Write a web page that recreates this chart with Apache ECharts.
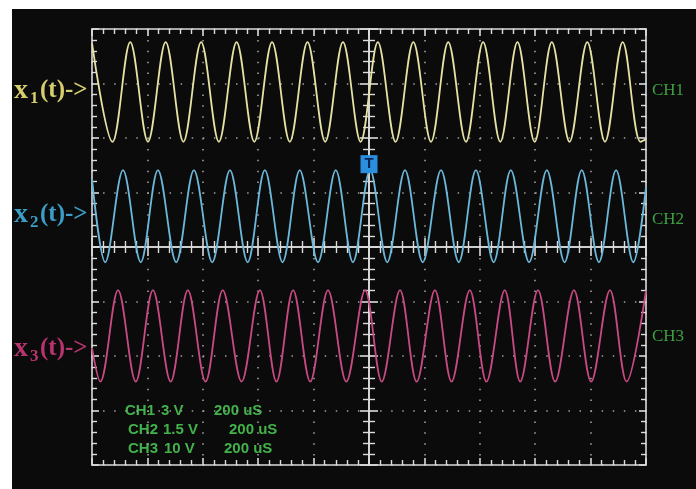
<!DOCTYPE html>
<html><head><meta charset="utf-8">
<script src="https://cdn.jsdelivr.net/npm/echarts@6/dist/echarts.min.js"></script>
<style>
html,body{margin:0;padding:0;background:#fff;}
#bg{position:absolute;left:12px;top:9px;width:684px;height:480px;background:#0b0b0b;}
#c{position:absolute;left:0;top:0;width:696px;height:489px;}
</style></head><body><div id="bg"></div><div id="c"></div>
<script>
// time in divisions (200 uS/div), amplitude in divisions
const ch1T = [0, 0.37, 0.69, 1.01, 1.33, 1.65, 1.97, 2.29, 2.61, 2.93, 3.25, 3.57, 3.89, 4.21, 4.53, 4.85, 5.16, 5.48, 5.80, 6.12, 6.43, 6.75, 7.06, 7.37, 7.68, 7.99, 8.30, 8.62, 8.94, 9.26, 9.58, 9.90, 10];
const ch1V = [3.74, 1.93, 3.76, 1.93, 3.76, 1.93, 3.76, 1.93, 3.76, 1.93, 3.76, 1.93, 3.76, 1.93, 3.76, 1.93, 3.76, 1.93, 3.76, 1.93, 3.76, 1.93, 3.76, 1.93, 3.76, 1.93, 3.76, 1.93, 3.76, 1.93, 3.76, 1.93, 1.98];
const ch2T = [0, 0.24, 0.56, 0.88, 1.19, 1.52, 1.84, 2.17, 2.49, 2.81, 3.12, 3.44, 3.75, 4.08, 4.40, 4.71, 5.02, 5.33, 5.65, 5.97, 6.30, 6.62, 6.93, 7.25, 7.56, 7.89, 8.21, 8.53, 8.84, 9.15, 9.46, 9.77, 10];
const ch2V = [1.25, -0.28, 1.41, -0.28, 1.41, -0.28, 1.41, -0.28, 1.41, -0.28, 1.41, -0.28, 1.41, -0.28, 1.41, -0.28, 1.41, -0.28, 1.41, -0.28, 1.41, -0.28, 1.41, -0.28, 1.41, -0.28, 1.41, -0.28, 1.41, -0.28, 1.41, -0.28, 1.10];
const ch3T = [0, 0.15, 0.47, 0.79, 1.10, 1.42, 1.73, 2.05, 2.36, 2.70, 3.03, 3.33, 3.63, 3.94, 4.26, 4.59, 4.93, 5.23, 5.56, 5.86, 6.19, 6.49, 6.82, 7.12, 7.45, 7.73, 8.05, 8.36, 8.70, 9.01, 9.35, 9.65, 10];
const ch3V = [-1.85, -2.47, -0.79, -2.47, -0.79, -2.47, -0.79, -2.47, -0.79, -2.47, -0.79, -2.47, -0.79, -2.47, -0.79, -2.47, -0.79, -2.47, -0.79, -2.47, -0.79, -2.47, -0.79, -2.47, -0.79, -2.47, -0.79, -2.47, -0.79, -2.47, -0.79, -2.47, -0.80];
const trigger = [5, 1.52];
const chLabels = ['CH1', 'CH2', 'CH3'];
const scaleRows = [['CH1', '3 V', '200 uS'], ['CH2', '1.5 V', '200 uS'], ['CH3', '10 V', '200 uS']];

const zip = (t, v) => t.map((x, i) => [x, v[i]]);
const W = '#dcdcdc';
const lineW = { color: W, width: 1.6 };
function axis(extra) {
  return Object.assign({
    type: 'value', axisLabel: { show: false },
    splitLine: { show: false },
  }, extra);
}
function vis(grid, pos, min, max, inside, major, minor, split, dash) {
  return axis({
    gridIndex: grid, position: pos, min: min, max: max, interval: 1,
    axisLine: { show: true, onZero: false, lineStyle: lineW },
    axisTick: { show: true, inside: inside, length: major, lineStyle: lineW },
    minorTick: { show: true, splitNumber: 5, length: minor, lineStyle: { color: W, width: 1.4 } },
    splitLine: { show: split, lineStyle: { color: '#a0a0a0', width: 1.6, type: dash } }
  });
}
function hid(grid, min, max) {
  return axis({ gridIndex: grid, show: false, min: min, max: max, axisLine: { onZero: false } });
}

const graphic = [];
const labelDefs = [
  { sub: '1', cy: 91, color: '#d6cd6c' },
  { sub: '2', cy: 215, color: '#3a9ec6' },
  { sub: '3', cy: 349, color: '#b8346e' }
];
labelDefs.forEach(d => {
  const f = 'bold 25px "Liberation Serif"';
  graphic.push({ type: 'text', x: 14, y: d.cy, style: { text: 'x', fill: d.color, font: 'bold 28px "Liberation Serif"', verticalAlign: 'middle' } });
  graphic.push({ type: 'text', x: 30, y: d.cy + 8, style: { text: d.sub, fill: d.color, font: 'bold 17px "Liberation Serif"', verticalAlign: 'middle' } });
  graphic.push({ type: 'text', x: 40, y: d.cy, style: { text: '(t)->', fill: d.color, font: f, verticalAlign: 'middle' } });
});
const chY = [91, 220, 337];
chLabels.forEach((t, i) => {
  graphic.push({ type: 'text', x: 652, y: chY[i], style: { text: t, fill: '#3da040', font: '17px "Liberation Serif"', verticalAlign: 'middle' } });
});
const rowY = [411, 430, 449];
const colX = [[125, 161, 214], [128, 163, 229], [128, 164, 224]];
scaleRows.forEach((r, i) => {
  r.forEach((t, j) => {
    graphic.push({ type: 'text', x: colX[i][j], y: rowY[i], style: { text: t, fill: '#43b24a', font: 'bold 15px "Liberation Sans"', verticalAlign: 'middle' } });
  });
});

const chart = echarts.init(document.getElementById('c'), null, { renderer: 'canvas' });
chart.setOption({
  backgroundColor: 'transparent',
  animation: false,
  grid: [
    { left: 92, top: 29, width: 554, height: 436 },
    { left: 92, top: 29, width: 554, height: 218 },
    { left: 92, top: 247, width: 554, height: 218 },
    { left: 92, top: 29, width: 277, height: 436 },
    { left: 369, top: 29, width: 277, height: 436 }
  ],
  xAxis: [
    vis(0, 'bottom', 0, 10, true, 7, 5, true, [1.5, 9.4]),
    vis(0, 'top', 0, 10, true, 7, 5, false),
    vis(1, 'bottom', 0, 10, false, 9, 6, false),
    vis(2, 'top', 0, 10, false, 9, 6, false),
    hid(3, 0, 5),
    hid(4, 5, 10)
  ],
  yAxis: [
    vis(0, 'left', -4, 4, true, 7, 5, true, [1.5, 9.58]),
    vis(0, 'right', -4, 4, true, 7, 5, false),
    hid(1, 0, 4),
    hid(2, -4, 0),
    vis(3, 'right', -4, 4, false, 9, 6, false),
    vis(4, 'left', -4, 4, false, 9, 6, false)
  ],
  series: [
    { type: 'line', xAxisIndex: 0, yAxisIndex: 0, data: zip(ch1T, ch1V), smooth: 0.34, showSymbol: false, silent: true,
      lineStyle: { color: '#e6e2a4', width: 1.8 } },
    { type: 'line', xAxisIndex: 0, yAxisIndex: 0, data: zip(ch2T, ch2V), smooth: 0.34, showSymbol: false, silent: true,
      lineStyle: { color: '#6cb8da', width: 1.8 },
      markPoint: { silent: true, data: [{ coord: trigger, symbol: 'rect', symbolSize: [17, 18],
        itemStyle: { color: '#2b8fe0' },
        label: { show: true, position: 'inside', formatter: 'T', color: '#0b2454', fontWeight: 'bold', fontSize: 15, fontFamily: 'Liberation Sans' } }] } },
    { type: 'line', xAxisIndex: 0, yAxisIndex: 0, data: zip(ch3T, ch3V), smooth: 0.34, showSymbol: false, silent: true,
      lineStyle: { color: '#c84a84', width: 1.8 } }
  ],
  graphic: graphic
});
</script></body></html>
